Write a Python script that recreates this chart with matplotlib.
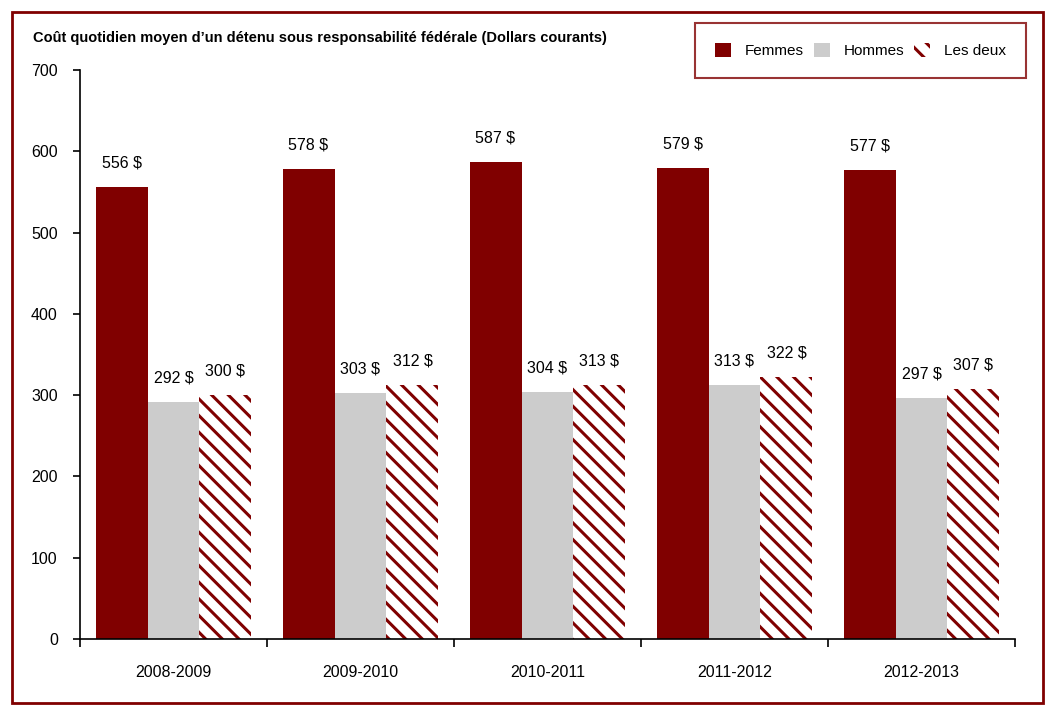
import matplotlib
matplotlib.use("Agg")
import matplotlib.pyplot as plt
from matplotlib.patches import Rectangle, Patch
import numpy as np

plt.rcParams['font.family'] = ['Liberation Sans', 'DejaVu Sans']
plt.rcParams['hatch.linewidth'] = 2.2
plt.rcParams['hatch.color'] = '#800000'

categories = ['2008-2009', '2009-2010', '2010-2011', '2011-2012', '2012-2013']
femmes = [556, 578, 587, 579, 577]
hommes = [292, 303, 304, 313, 297]
les_deux = [300, 312, 313, 322, 307]
title = "Coût quotidien moyen d’un détenu sous responsabilité fédérale (Dollars courants)"

dark = '#800000'
grey = '#CCCCCC'

fig = plt.figure(figsize=(10.55, 7.16), dpi=100)
ax = fig.add_axes([80/1055, 1-639/716, 935/1055, (639-70)/716])

x = np.arange(len(categories))
w = 0.278
ax.bar(x - w, femmes, w, color=dark, linewidth=0)
ax.bar(x, hommes, w, color=grey, linewidth=0)
ax.bar(x + w, les_deux, w, color='white', edgecolor=dark, hatch='\\\\', linewidth=0)

for xs, vals in [(x - w, femmes), (x, hommes), (x + w, les_deux)]:
    for xi, v in zip(xs, vals):
        ax.annotate(f"{v} $", (xi, v), xytext=(0, 24), textcoords='offset pixels',
                    ha='center', va='center', fontsize=11.5)

ax.set_xlim(-0.5, len(categories) - 0.5)
ax.set_ylim(0, 700)
ax.set_yticks(range(0, 701, 100))
ax.set_xticks(x)
ax.set_xticklabels(categories, fontsize=11.5)
ax.tick_params(axis='x', length=0, pad=19)
ax.set_xticks(np.arange(-0.5, len(categories)), minor=True)
ax.tick_params(axis='x', which='minor', length=6, width=1.2, direction='out')
ax.tick_params(axis='y', labelsize=11.5, length=5, width=1.2, direction='out', pad=11)
for s in ['top', 'right']:
    ax.spines[s].set_visible(False)
for s in ['left', 'bottom']:
    ax.spines[s].set_linewidth(1.2)

fig.text(33/1055, 1-38/716, title, fontsize=10.5, fontweight='bold', va='center', ha='left')

handles = [Patch(facecolor=dark, edgecolor='none'),
           Patch(facecolor=grey, edgecolor='none'),
           Patch(facecolor='white', edgecolor=dark, hatch='\\\\', linewidth=0)]
leg = fig.legend(handles, ['Femmes', 'Hommes', 'Les deux'], ncol=3,
                 loc='upper right', bbox_to_anchor=(1026/1055, 1-23/716),
                 frameon=True, fancybox=False, fontsize=11,
                 handlelength=1.05, handleheight=1.05, handletextpad=0.9,
                 columnspacing=0.65, borderpad=1.3, borderaxespad=0)
leg.get_frame().set_edgecolor(dark)
leg.get_frame().set_linewidth(1.5)

fig.patches.append(Rectangle((12/1055, 1-703/716), 1031/1055, 691/716,
                             transform=fig.transFigure, fill=False,
                             edgecolor=dark, linewidth=2))

fig.savefig('out.png', dpi=100)
